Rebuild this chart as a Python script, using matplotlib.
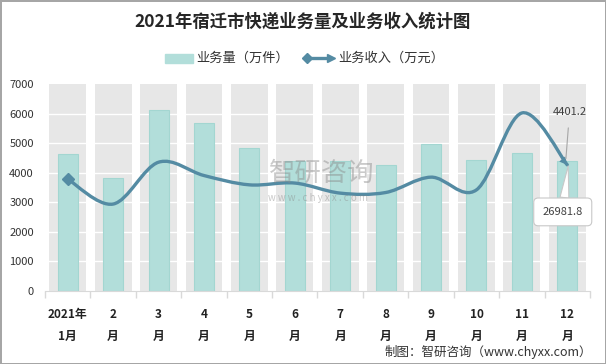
import matplotlib
matplotlib.use("Agg")
import matplotlib.pyplot as plt
from matplotlib.path import Path
from matplotlib.patches import PathPatch
import numpy as np

plt.rcParams['font.family'] = ['Noto Sans CJK SC', 'DejaVu Sans']

months = ["2021年\n1月", "2\n月", "3\n月", "4\n月", "5\n月", "6\n月",
          "7\n月", "8\n月", "9\n月", "10\n月", "11\n月", "12\n月"]
volume = [4630, 3815, 6115, 5680, 4830, 4400, 4400, 4270, 4965, 4435, 4660, 4401.2]
# revenue line as drawn against the visible axis (secondary axis is hidden)
revenue_pos = [3785, 2940, 4355, 3905, 3590, 3650, 3310, 3330, 3850, 3420, 6020, 4265]
yticks = [0, 1000, 2000, 3000, 4000, 5000, 6000, 7000]

bar_color = "#b2deda"
line_color = "#548ba3"

fig = plt.figure(figsize=(6.06, 3.64), dpi=100)
fig.patch.set_edgecolor("#a6a6a6")
fig.patch.set_linewidth(2)
ax = fig.add_axes([45 / 606, 1 - 291 / 364, 545 / 606, 207 / 364])

x = np.arange(len(months))
# grey background bands
ax.bar(x, [7000] * len(x), width=0.81, color="#e7e7e7", zorder=0)
for t in yticks[1:-1]:
    ax.axhline(t, color="white", lw=1, zorder=1)
ax.bar(x, volume, width=0.44, color=bar_color, edgecolor="#a3d6d1",
       linewidth=0.8, zorder=2)

# smooth line (Bezier segments like Excel's smoothed line)
pts = np.column_stack([x, revenue_pos]).astype(float)
verts = [tuple(pts[0])]
codes = [Path.MOVETO]
n = len(pts)
for i in range(n - 1):
    p0 = pts[max(i - 1, 0)]
    p1 = pts[i]
    p2 = pts[i + 1]
    p3 = pts[min(i + 2, n - 1)]
    c1 = p1 + (p2 - p0) / 6
    c2 = p2 - (p3 - p1) / 6
    verts += [tuple(c1), tuple(c2), tuple(p2)]
    codes += [Path.CURVE4] * 3
ax.add_patch(PathPatch(Path(verts, codes), fill=False, edgecolor=line_color,
                       lw=2.4, zorder=3, capstyle="round"))
ax.plot(pts[0, 0], pts[0, 1], marker="D", ms=6, color=line_color, zorder=4)
ax.annotate("", xy=tuple(pts[-1]), xytext=verts[-2],
            arrowprops=dict(arrowstyle="-|>", color=line_color, lw=0,
                            mutation_scale=14, shrinkA=0, shrinkB=0), zorder=4)

# labels
ax.annotate("4401.2", xy=(10.97, 4480), xytext=(11.05, 6060),
            ha="center", va="center", fontsize=8, color="#404040",
            arrowprops=dict(arrowstyle="-", color="#a6a6a6", lw=0.8,
                            shrinkA=6, shrinkB=0), zorder=5)
ax.annotate("26981.8", xy=(11.02, 4230), xytext=(10.9, 2675),
            ha="center", va="center", fontsize=8, color="#404040",
            bbox=dict(boxstyle="round,pad=0.8,rounding_size=0.4",
                      fc="white", ec="#c8c8c8", lw=0.8),
            arrowprops=dict(arrowstyle="wedge,tail_width=0.8",
                            fc="white", ec="#c8c8c8", lw=0.8, shrinkA=0,
                            shrinkB=0), zorder=5)

# watermark
ax.text(5.6, 3980, "智研咨询", ha="center", va="center", fontsize=19,
        color="#8a8a8a", alpha=0.45, zorder=6)
ax.text(5.5, 3130, "w w w . c h y x x . c o m", ha="center", va="center",
        fontsize=7, color="#8a8a8a", alpha=0.45, zorder=6)

ax.set_xlim(-0.5, 11.5)
ax.set_ylim(0, 7000)
ax.set_yticks(yticks)
ax.set_yticklabels([str(t) for t in yticks], fontsize=8, color="#333333")
ax.tick_params(axis="y", length=0, pad=8)
ax.set_xticks(x)
ax.set_xticklabels(months, fontsize=8.5, fontweight="bold", color="#222222",
                   linespacing=1.9)
ax.tick_params(axis="x", length=0, pad=12)
ax.set_xticks(np.arange(-0.5, 12, 1), minor=True)
ax.tick_params(axis="x", which="minor", length=5, color="#d9d9d9", width=1)
for s in ["top", "right", "left"]:
    ax.spines[s].set_visible(False)
ax.spines["bottom"].set_color("#d9d9d9")
ax.spines["bottom"].set_zorder(6)

fig.text(0.5, 1 - 22 / 364, "2021年宿迁市快递业务量及业务收入统计图",
         ha="center", va="center", fontsize=12.5, fontweight="bold",
         color="#262626")

# legend
fig.patches.append(plt.Rectangle((165 / 606, 1 - 63 / 364), 28 / 606, 9 / 364,
                                 transform=fig.transFigure, color=bar_color))
fig.text(196 / 606, 1 - 58 / 364, "业务量（万件）", ha="left", va="center",
         fontsize=9.5, color="#333333")
fig.lines.append(plt.Line2D([308 / 606, 330 / 606], [1 - 58 / 364] * 2,
                            transform=fig.transFigure, color=line_color, lw=2.4))
fig.lines.append(plt.Line2D([307 / 606], [1 - 58 / 364], marker="D", ms=5,
                            transform=fig.transFigure, color=line_color))
fig.lines.append(plt.Line2D([331 / 606], [1 - 58 / 364], marker=">", ms=6,
                            transform=fig.transFigure, color=line_color))
fig.text(338 / 606, 1 - 58 / 364, "业务收入（万元）", ha="left", va="center",
         fontsize=9.5, color="#333333")

fig.text(592 / 606, 1 - 352 / 364, "制图：智研咨询（www.chyxx.com）",
         ha="right", va="center", fontsize=9, color="#333333")

fig.savefig("out.png", dpi=100, edgecolor=fig.get_edgecolor())
